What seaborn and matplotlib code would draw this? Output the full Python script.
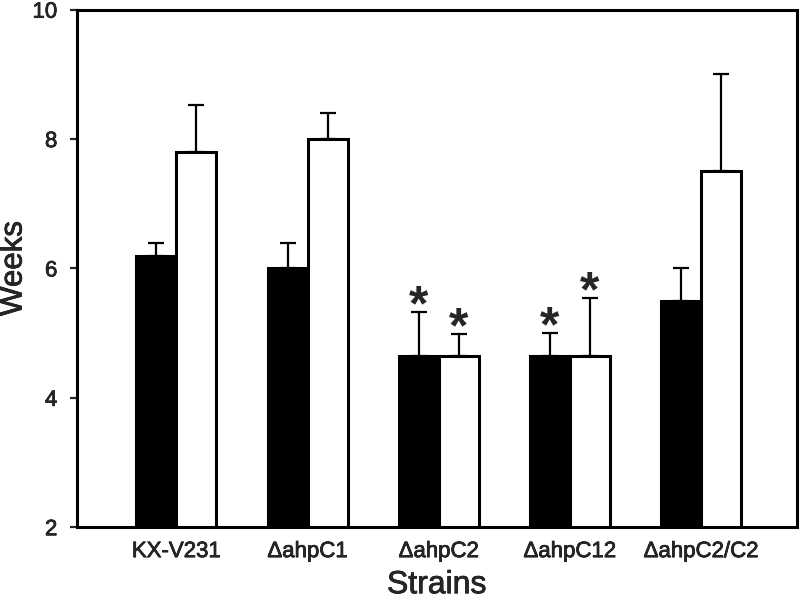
import pandas as pd
import numpy as np
import seaborn as sns
import matplotlib.pyplot as plt
import matplotlib.patheffects as pe

# values
strains = ['KX-V231', 'ΔahpC1', 'ΔahpC2', 'ΔahpC12', 'ΔahpC2/C2']
groups = ['black', 'white']
weeks_black = [6.2, 6.0, 4.65, 4.65, 5.5]
weeks_white = [7.8, 8.0, 4.65, 4.65, 7.5]
err_black = [0.2, 0.4, 0.67, 0.35, 0.5]
err_white = [0.73, 0.4, 0.34, 0.89, 1.5]
star_black = [False, False, True, True, False]
star_white = [False, False, True, True, False]


def build_frame():
    """Long-form table for seaborn."""
    return pd.DataFrame({
        'strain': strains * 2,
        'group': [groups[0]] * len(strains) + [groups[1]] * len(strains),
        'weeks': weeks_black + weeks_white,
    })


def plot_weeks(df):
    sns.set_style('white')
    plt.rcParams['font.family'] = ['Liberation Sans', 'DejaVu Sans']

    fig = plt.figure(figsize=(8, 6.06), dpi=100)
    ax = fig.add_axes([0.096, 0.130, 0.9, 0.854])

    sns.barplot(data=df, x='strain', y='weeks', hue='group', order=strains,
                hue_order=groups, palette=['black', 'white'], edgecolor='black',
                linewidth=2.2, width=0.61, errorbar=None, legend=False, ax=ax)

    # one-sided error bars and significance marks
    for cont, errs, stars in zip(ax.containers, [err_black, err_white],
                                 [star_black, star_white]):
        for bar, e, s in zip(cont, errs, stars):
            x = bar.get_x() + bar.get_width() / 2
            h = bar.get_height()
            ax.errorbar(x, h, yerr=[[0], [e]], fmt='none', ecolor='black',
                        elinewidth=1.6, capsize=5.5, capthick=1.6, zorder=1)
            if s:
                ax.annotate('*', xy=(x, h + e), xytext=(0, -6),
                            textcoords='offset points', ha='center',
                            va='baseline', fontsize=36, fontweight='bold')

    ax.set_ylim(2, 10)
    ax.set_yticks([2, 4, 6, 8, 10])
    ax.set_xlim(-0.76, 4.73)

    for sp in ax.spines.values():
        sp.set_visible(True)
        sp.set_color('black')
        sp.set_linewidth(2.2)

    ax.tick_params(axis='y', direction='out', length=5, width=1.6,
                   labelsize=16, pad=9, left=True)
    ax.tick_params(axis='x', length=0, labelsize=16, pad=10)

    ax.set_ylabel('Weeks', fontsize=22.5)
    ax.set_xlabel('Strains', fontsize=23)
    ax.yaxis.set_label_coords(-0.067, 0.5)
    ax.xaxis.set_label_coords(0.5, -0.083)

    # the reference text looks a little heavier than plain regular weight
    heavy = [pe.withStroke(linewidth=0.5, foreground='black')]
    for t in ax.get_xticklabels() + ax.get_yticklabels():
        t.set_path_effects(heavy)
    ax.xaxis.label.set_path_effects(heavy)
    ax.yaxis.label.set_path_effects(heavy)

    fig.savefig('out.png', dpi=100)


def main():
    df = build_frame()
    plot_weeks(df)


if __name__ == '__main__':
    main()
